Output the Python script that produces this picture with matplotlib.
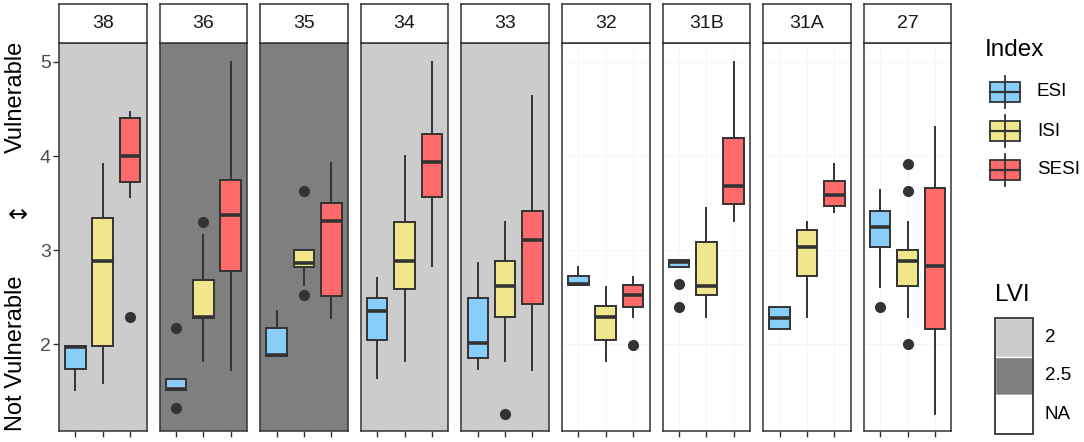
import numpy as np
import matplotlib
matplotlib.use("Agg")
import matplotlib.pyplot as plt
from matplotlib.patches import Rectangle

plt.rcParams['font.family'] = ['Liberation Sans', 'DejaVu Sans']

W, H = 1084, 442

sites = ["38", "36", "35", "34", "33", "32", "31B", "31A", "27"]
lvi = ["2", "2.5", "2.5", "2", "2", "NA", "NA", "NA", "NA"]
indices = ["ESI", "ISI", "SESI"]

# box stats per site: (whislo, q1, med, q3, whishi, fliers) for ESI, ISI, SESI
esi = [
    (1.52, 1.74, 1.97, 1.98, 1.98, []),
    (1.52, 1.52, 1.53, 1.63, 1.63, [2.17, 1.32]),
    (1.88, 1.88, 1.89, 2.17, 2.35, []),
    (1.64, 2.05, 2.35, 2.49, 2.70, []),
    (1.74, 1.85, 2.01, 2.49, 2.86, []),
    (2.63, 2.63, 2.64, 2.73, 2.82, []),
    (2.82, 2.82, 2.87, 2.90, 2.90, [2.64, 2.40]),
    (2.16, 2.16, 2.28, 2.40, 2.40, []),
    (2.61, 3.03, 3.25, 3.42, 3.64, [2.40]),
]
isi = [
    (1.59, 1.98, 2.88, 3.34, 3.91, []),
    (1.82, 2.28, 2.29, 2.68, 3.16, [3.30]),
    (2.63, 2.82, 2.86, 3.00, 3.00, [3.63, 2.52]),
    (1.82, 2.59, 2.88, 3.30, 4.00, []),
    (1.82, 2.29, 2.62, 2.88, 3.30, [1.26]),
    (1.82, 2.05, 2.29, 2.41, 2.61, []),
    (2.29, 2.52, 2.62, 3.09, 3.45, []),
    (2.29, 2.73, 3.03, 3.21, 3.30, []),
    (2.29, 2.62, 2.88, 3.00, 3.30, [3.91, 3.63, 2.00]),
]
sesi = [
    (3.56, 3.72, 4.00, 4.40, 4.47, [2.29]),
    (1.73, 2.78, 3.37, 3.74, 5.00, []),
    (2.28, 2.51, 3.31, 3.50, 3.93, []),
    (2.83, 3.56, 3.94, 4.23, 5.00, []),
    (1.73, 2.43, 3.11, 3.42, 4.64, []),
    (2.29, 2.40, 2.52, 2.63, 2.71, [1.99]),
    (3.31, 3.49, 3.68, 4.19, 5.00, []),
    (3.41, 3.47, 3.59, 3.73, 3.91, []),
    (1.26, 2.16, 2.83, 3.66, 4.31, []),
]

fill_colors = {"ESI": "#87CEFA", "ISI": "#F0E68C", "SESI": "#FF6A6A"}
lvi_colors = {"2": "#CCCCCC", "2.5": "#7F7F7F", "NA": "#FFFFFF"}
dark = "#333333"


def px(x0, y0, x1, y1):
    return [x0 / W, 1 - y1 / H, (x1 - x0) / W, (y1 - y0) / H]


fig = plt.figure(figsize=(W / 100, H / 100), dpi=100)

panel_top, panel_bot = 43, 431
strip_top = 4
pw = 87.5
for i, site in enumerate(sites):
    x0 = 59 + i * 100.6
    ax = fig.add_axes(px(x0, panel_top, x0 + pw, panel_bot))
    ax.set_facecolor(lvi_colors[lvi[i]])
    stats = []
    for name, data in zip(indices, [esi, isi, sesi]):
        lo, q1, med, q3, hi, fl = data[i]
        stats.append(dict(whislo=lo, q1=q1, med=med, q3=q3, whishi=hi,
                          fliers=fl, label=name))
    bp = ax.bxp(stats, positions=[1, 2, 3], widths=0.75, patch_artist=True,
                showcaps=False,
                boxprops=dict(edgecolor=dark, linewidth=1.4),
                whiskerprops=dict(color=dark, linewidth=1.4),
                medianprops=dict(color=dark, linewidth=2.6),
                flierprops=dict(marker="o", markerfacecolor=dark,
                                markeredgecolor=dark, markersize=7))
    for patch, name in zip(bp["boxes"], indices):
        patch.set_facecolor(fill_colors[name])
    ax.set_xlim(0.4, 3.6)
    ax.set_ylim(1.08, 5.2)
    ax.set_xticks([1, 2, 3])
    ax.set_xticklabels([])
    ax.set_yticks([2, 3, 4, 5])
    if lvi[i] == "NA":
        ax.grid(True, which="major", color="#F3F3F3", linewidth=0.5)
        ax.set_axisbelow(True)
    ax.tick_params(axis="x", length=4, width=1, color=dark)
    if i == 0:
        ax.tick_params(axis="y", length=4, width=1, color=dark,
                       labelsize=14, labelcolor="#4D4D4D", pad=2)
    else:
        ax.tick_params(axis="y", length=0, labelleft=False)
    for s in ax.spines.values():
        s.set_color(dark)
        s.set_linewidth(1.1)

    sax = fig.add_axes(px(x0, strip_top, x0 + pw, panel_top))
    sax.set_facecolor("white")
    sax.set_xticks([])
    sax.set_yticks([])
    for s in sax.spines.values():
        s.set_color(dark)
        s.set_linewidth(1.1)
    sax.text(0.5, 0.5, site, ha="center", va="center", fontsize=14,
             color="#1A1A1A", transform=sax.transAxes)

# y axis label
fig.text(16 / W, 1 - 97 / H, "Vulnerable", rotation=90, ha="center",
         va="center", fontsize=17)
fig.text(16 / W, 1 - 209 / H, "\u2195", rotation=90, ha="center",
         va="center", fontsize=17, family=['DejaVu Sans'])
fig.text(16 / W, 1 - 353 / H, "Not Vulnerable", rotation=90, ha="center",
         va="center", fontsize=17)

# Index legend
lax = fig.add_axes([0, 0, 1, 1], facecolor="none")
lax.set_xlim(0, W)
lax.set_ylim(H, 0)
lax.axis("off")
lax.text(985, 50, "Index", fontsize=17.5, va="center", ha="left")
for k, name in enumerate(indices):
    cy = 92 + k * 39
    lax.plot([1005, 1005], [cy - 16, cy + 16], color=dark, lw=1.3)
    lax.add_patch(Rectangle((990, cy - 10), 30, 20, facecolor=fill_colors[name],
                            edgecolor=dark, lw=1.3))
    lax.plot([990, 1020], [cy, cy], color=dark, lw=1.6)
    lax.text(1037, cy, name, fontsize=13.5, va="center", ha="left")

# LVI legend
lax.text(995, 295, "LVI", fontsize=17.5, va="center", ha="left")
for k, lv in enumerate(["2", "2.5", "NA"]):
    y0 = 318 + k * 38.7
    lax.add_patch(Rectangle((995, y0), 38, 38.7, facecolor=lvi_colors[lv],
                            edgecolor="white", lw=1.0))
    lax.text(1045, y0 + 19.3, lv, fontsize=13.5, va="center", ha="left")
lax.add_patch(Rectangle((995, 318), 38, 116, facecolor="none",
                        edgecolor=dark, lw=1.3))

fig.savefig("out.png", dpi=100)
